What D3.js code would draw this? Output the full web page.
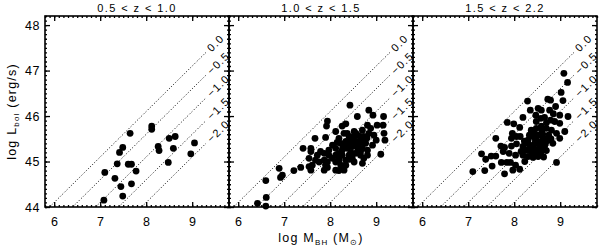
<!DOCTYPE html>
<html>
<head>
<meta charset="utf-8">
<script src="https://cdn.jsdelivr.net/npm/d3@7"></script>
<style>
  body { margin: 0; background: #fff; }
  svg text { font-family: "Liberation Sans", Arial, Helvetica, sans-serif; fill: #000; }
</style>
</head>
<body>
<div id="chart"></div>
<script>
// redshift bins, one panel each
var panelTitles = ["0.5 < z < 1.0", "1.0 < z < 1.5", "1.5 < z < 2.2"];

// [log MBH, log Lbol]
var lowZ = [
    [7.65,45.62],[8.12,45.78],[8.12,45.71],[8.50,45.51],[8.63,45.55],[8.26,45.33],
    [8.28,45.24],[8.59,45.29],[9.05,45.41],[8.97,45.17],[8.48,44.98],[7.49,45.31],
    [7.42,45.20],[7.37,44.95],[7.61,44.94],[7.68,44.94],[7.10,44.76],[7.78,44.79],
    [7.32,44.63],[7.45,44.45],[7.68,44.51],[7.49,44.24],[7.08,44.15]
];

var midZ = [
    [8.43,46.24],[8.84,46.13],[8.93,46.02],[9.16,45.99],[8.59,45.99],[7.94,45.89],
    [7.92,45.78],[8.26,45.78],[8.34,45.83],[8.81,45.80],[9.02,45.80],[9.15,45.80],
    [8.12,45.66],[8.37,45.62],[8.70,45.69],[8.84,45.62],[8.95,45.58],[9.17,45.62],
    [9.19,45.47],[7.67,45.51],[7.90,45.53],[8.19,45.51],[8.52,45.55],[8.59,45.58],
    [8.73,45.55],[8.23,45.40],[8.34,45.44],[8.45,45.47],[8.55,45.44],[8.66,45.47],
    [8.77,45.40],[8.92,45.36],[8.05,45.36],[7.41,45.29],[7.58,45.29],[7.58,45.22],
    [7.97,45.25],[8.12,45.29],[8.26,45.25],[8.37,45.29],[8.48,45.33],[8.59,45.33],
    [8.70,45.29],[8.81,45.25],[8.66,45.22],[8.55,45.18],[8.41,45.14],[8.26,45.14],
    [8.12,45.14],[7.97,45.14],[7.87,45.18],[7.72,45.14],[7.54,45.07],[7.68,45.03],
    [7.87,45.03],[8.05,45.07],[8.19,45.03],[8.34,45.03],[8.48,45.07],[8.66,45.14],
    [8.81,45.14],[9.10,45.16],[8.70,44.96],[8.12,44.99],[7.94,44.99],[7.76,44.99],
    [7.61,44.92],[7.54,44.89],[7.58,44.81],[7.36,44.87],[7.21,44.80],[6.89,44.85],
    [6.96,44.70],[6.92,44.65],[6.60,44.58],[6.61,44.21],[6.42,44.08],[6.60,44.02],
    [7.87,44.81],[8.12,44.81],[8.19,44.80],[7.94,44.87],[8.34,44.92],[8.23,44.92],
    [8.41,45.55],[8.30,45.62],[8.63,45.40],[8.73,45.07],[8.52,44.99],[8.30,44.81],
    [7.90,44.92],[8.19,45.18],[7.79,45.22],[8.88,45.73],[8.52,45.66],[9.00,45.47],
    [8.45,45.20],[8.50,45.38],[8.60,45.25],[8.38,45.37],[8.28,45.32],[8.65,45.55],
    [8.72,45.42],[8.42,45.05],[8.15,45.42],[8.56,45.62],[8.80,45.52],[8.20,45.08]
];

var highZ = [
    [9.08,46.94],[9.16,46.74],[9.02,46.52],[8.73,46.37],[8.79,46.35],[9.06,46.34],
    [8.29,46.33],[8.35,46.13],[8.52,46.17],[8.59,46.13],[8.77,46.13],[8.90,46.21],
    [8.99,46.02],[9.17,45.99],[8.19,45.97],[8.48,45.88],[8.66,45.97],[8.79,45.91],
    [8.88,45.88],[8.99,45.84],[7.85,45.86],[7.99,45.83],[8.12,45.75],[7.96,45.62],
    [8.05,45.55],[7.94,45.51],[8.13,45.55],[8.37,45.69],[8.48,45.73],[8.59,45.78],
    [8.70,45.73],[8.81,45.69],[8.92,45.62],[8.99,45.51],[9.10,45.66],[7.60,45.51],
    [7.71,45.34],[7.79,45.31],[7.94,45.34],[8.05,45.39],[8.19,45.33],[8.30,45.47],
    [8.41,45.55],[8.52,45.58],[8.63,45.51],[8.73,45.47],[8.84,45.40],[8.34,45.36],
    [8.45,45.40],[8.55,45.36],[8.66,45.33],[8.26,45.25],[8.37,45.22],[8.48,45.25],
    [8.59,45.22],[8.70,45.24],[8.30,45.11],[8.41,45.09],[8.19,45.14],[8.03,45.14],
    [7.89,45.18],[7.76,45.22],[7.29,45.17],[7.38,45.05],[7.50,45.12],[7.60,45.12],
    [7.52,44.90],[7.72,44.98],[7.84,44.98],[7.92,44.98],[8.03,44.92],[8.12,44.83],
    [7.97,44.81],[8.23,45.00],[7.79,44.73],[7.36,44.80],[7.10,44.78],[8.92,44.98],
    [8.52,45.11],[8.35,45.30],[8.42,45.32],[8.50,45.45],[8.58,45.42],[8.62,45.60],
    [8.44,45.62],[8.28,45.40],[8.40,45.18],[8.55,45.28],[8.68,45.40],[8.75,45.58],
    [8.60,45.68],[8.46,45.48],[8.33,45.58],[8.22,45.45],[8.15,45.22],[8.52,45.16],
    [8.64,45.10],[8.80,45.50],[8.70,45.85],[8.58,45.95],[8.85,46.05],[8.47,46.02]
];

var panelData = [lowZ, midZ, highZ];

// Eddington ratio lines, log(Lbol/LEdd)
var eddRatios = [0.0, -0.5, -1.0, -1.5, -2.0];
var eddLabels = ["0.0", "\u22120.5", "\u22121.0", "\u22121.5", "\u22122.0"];

var xTicks = [6, 7, 8, 9];
var yTicks = [44, 45, 46, 47, 48];

function drawChart() {
    var width = 600, height = 247,
        panelLeft = [45, 229, 413],
        panelWidth = 184,
        plotTop = 16, plotBottom = 207,
        xDomain = [5.8, 9.8], yDomain = [44, 48.2],
        lineEnd = 9.3, labelStart = 9.36;

    var svg = d3.select("#chart")
        .append("svg")
        .attr("width", width)
        .attr("height", height);

    var y = d3.scaleLinear().domain(yDomain).range([plotBottom, plotTop]);

    var xMinor = d3.range(58, 99, 1).map(function(d) { return d / 10; });
    var yMinor = d3.range(440, 483, 1).map(function(d) { return d / 10; });

    panelLeft.forEach(function(left, i) {
        var x = d3.scaleLinear().domain(xDomain).range([left, left + panelWidth]);
        var g = svg.append("g");

        // dotted Eddington lines
        var angle = -Math.atan((y(44) - y(45)) / (x(7) - x(6))) * 180 / Math.PI;
        eddRatios.forEach(function(r, k) {
            var m0 = 44 - 38.1 - r;
            g.append("line")
                .attr("x1", x(m0)).attr("y1", y(44))
                .attr("x2", x(lineEnd)).attr("y2", y(lineEnd + 38.1 + r))
                .attr("stroke", "#000")
                .attr("stroke-width", 1)
                .attr("stroke-dasharray", "1,2");
            var lx = x(labelStart), ly = y(labelStart + 38.1 + r);
            g.append("text")
                .attr("transform", "translate(" + lx + "," + ly + ") rotate(" + angle + ")")
                .attr("dy", "0.35em")
                .style("font-size", "11px")
                .style("letter-spacing", "1.2px")
                .text(eddLabels[k]);
        });

        // points
        g.selectAll("circle")
            .data(panelData[i])
            .enter()
            .append("circle")
            .attr("cx", function(d) { return x(d[0]); })
            .attr("cy", function(d) { return y(d[1]); })
            .attr("r", 3.4)
            .attr("fill", "#000");

        // axes, ticks pointing inward
        function addAxis(axis, tx, ty, values, size, labels) {
            var a = axis.tickValues(values).tickSize(size).tickSizeOuter(0).tickPadding(10);
            a.tickFormat(labels ? d3.format("d") : "");
            var ax = g.append("g")
                .attr("transform", "translate(" + tx + "," + ty + ")")
                .call(a);
            ax.select(".domain").remove();
            ax.selectAll("line").attr("stroke-width", 1.3);
            ax.selectAll("text")
                .style("font-size", "12.5px")
                .style("letter-spacing", "0.6px")
                .attr("font-family", null);
            return ax;
        }

        addAxis(d3.axisBottom(x), 0, plotBottom, xTicks, -5, true);
        addAxis(d3.axisBottom(x), 0, plotBottom, xMinor, -2, false);
        addAxis(d3.axisTop(x), 0, plotTop, xTicks, -5, false);
        addAxis(d3.axisTop(x), 0, plotTop, xMinor, -2, false);
        var yl = addAxis(d3.axisLeft(y), left, 0, yTicks, -5, i === 0);
        if (i === 0) yl.selectAll("text").attr("x", -5);
        addAxis(d3.axisLeft(y), left, 0, yMinor, -2, false);
        addAxis(d3.axisRight(y), left + panelWidth, 0, yTicks, -5, false);
        addAxis(d3.axisRight(y), left + panelWidth, 0, yMinor, -2, false);

        g.append("rect")
            .attr("x", left).attr("y", plotTop)
            .attr("width", panelWidth).attr("height", plotBottom - plotTop)
            .attr("fill", "none")
            .attr("stroke", "#000")
            .attr("stroke-width", 1.6);

        g.append("text")
            .attr("x", left + panelWidth / 2)
            .attr("y", 12)
            .attr("text-anchor", "middle")
            .style("font-size", "11px")
            .style("letter-spacing", "1.4px")
            .text(panelTitles[i]);
    });

    // axis titles
    var xTitle = svg.append("text")
        .attr("x", panelLeft[1] + panelWidth / 2)
        .attr("y", 242)
        .attr("text-anchor", "middle")
        .style("font-size", "12.5px")
        .style("letter-spacing", "1.2px");
    xTitle.append("tspan").text("log M");
    xTitle.append("tspan").attr("dy", 3).style("font-size", "8px").text("BH");
    xTitle.append("tspan").attr("dy", -3).text(" (M");
    xTitle.append("tspan").attr("dy", 3).style("font-size", "8px").text("\u2299");
    xTitle.append("tspan").attr("dy", -3).text(")");

    var yTitle = svg.append("text")
        .attr("transform", "translate(16," + (plotTop + plotBottom) / 2 + ") rotate(-90)")
        .attr("text-anchor", "middle")
        .style("font-size", "12.5px")
        .style("letter-spacing", "1.2px");
    yTitle.append("tspan").text("log L");
    yTitle.append("tspan").attr("dy", 3).style("font-size", "8px").text("bol");
    yTitle.append("tspan").attr("dy", -3).text(" (erg/s)");
}

drawChart();
</script>
</body>
</html>
